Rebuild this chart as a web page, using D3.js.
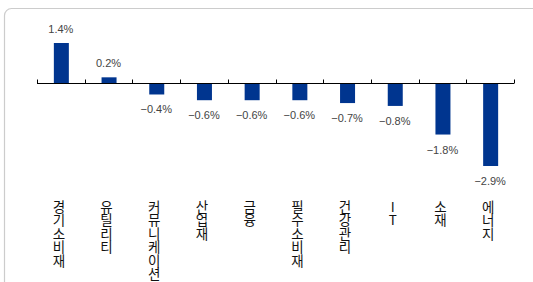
<!DOCTYPE html>
<html><head><meta charset="utf-8">
<script src="https://cdn.jsdelivr.net/npm/d3@7"></script>
<style>
html,body{margin:0;padding:0;background:#fff;overflow:hidden;}
svg{display:block;}
</style></head>
<body>
<script>
const categories = ["경기소비재","유틸리티","커뮤니케이션","산업재","금융","필수소비재","건강관리","IT","소재","에너지"];
const values = [1.4, 0.2, -0.4, -0.6, -0.6, -0.6, -0.7, -0.8, -1.8, -2.9];
const valueLabels = ["1.4%","0.2%","\u22120.4%","\u22120.6%","\u22120.6%","\u22120.6%","\u22120.7%","\u22120.8%","\u22121.8%","\u22122.9%"];

const W = 533, H = 282;
const svg = d3.select("body").append("svg").attr("width", W).attr("height", H);

// frame
svg.append("rect").attr("x", 4.5).attr("y", 8.5).attr("width", 560).attr("height", 320)
  .attr("rx", 7).attr("fill", "none").attr("stroke", "#cccccc").attr("stroke-width", 1.2);

const x = d3.scaleBand().domain(categories).range([37, 514]).paddingInner(0).paddingOuter(0);
const y = d3.scaleLinear().domain([-2.9, 1.4]).range([166, 43]);
const y0 = Math.round(y(0)) + 0.5;
const barW = 15;

const g = svg.append("g");

g.selectAll("rect.bar").data(values).join("rect").attr("class", "bar")
  .attr("x", (d, i) => x(categories[i]) + x.bandwidth() / 2 - barW / 2 + 0.5)
  .attr("width", barW)
  .attr("y", d => d >= 0 ? y(d) : y0)
  .attr("height", d => Math.abs(y(d) - y0))
  .attr("fill", "#00358f");

// axis line + ticks
const ticks = categories.map(c => x(c)).concat([x.range()[1]]);
g.append("line").attr("x1", 37).attr("x2", 514).attr("y1", y0).attr("y2", y0)
  .attr("stroke", "#000").attr("stroke-width", 1);
g.selectAll("line.tick").data(ticks).join("line").attr("class", "tick")
  .attr("x1", d => Math.round(d) + 0.5).attr("x2", d => Math.round(d) + 0.5)
  .attr("y1", y0 - 4).attr("y2", y0).attr("stroke", "#000").attr("stroke-width", 1);

// value labels
g.selectAll("text.val").data(values).join("text").attr("class", "val")
  .attr("x", (d, i) => x(categories[i]) + x.bandwidth() / 2)
  .attr("y", d => d >= 0 ? y(d) - 10 : y(d) + 19)
  .attr("text-anchor", "middle")
  .attr("font-family", "Arial, 'Liberation Sans', sans-serif")
  .attr("font-size", 11).attr("fill", "#444")
  .text((d, i) => valueLabels[i]);

// category labels (vertical, upright)
g.selectAll("text.cat").data(categories).join("text").attr("class", "cat")
  .attr("x", d => x(d) + x.bandwidth() / 2 - 2)
  .attr("y", 200)
  .style("writing-mode", "vertical-rl")
  .style("text-orientation", "upright")
  .attr("font-family", "'Noto Sans CJK KR', sans-serif")
  .attr("font-size", 13.5).attr("fill", "#111")
  .text(d => d);
</script>
</body></html>
